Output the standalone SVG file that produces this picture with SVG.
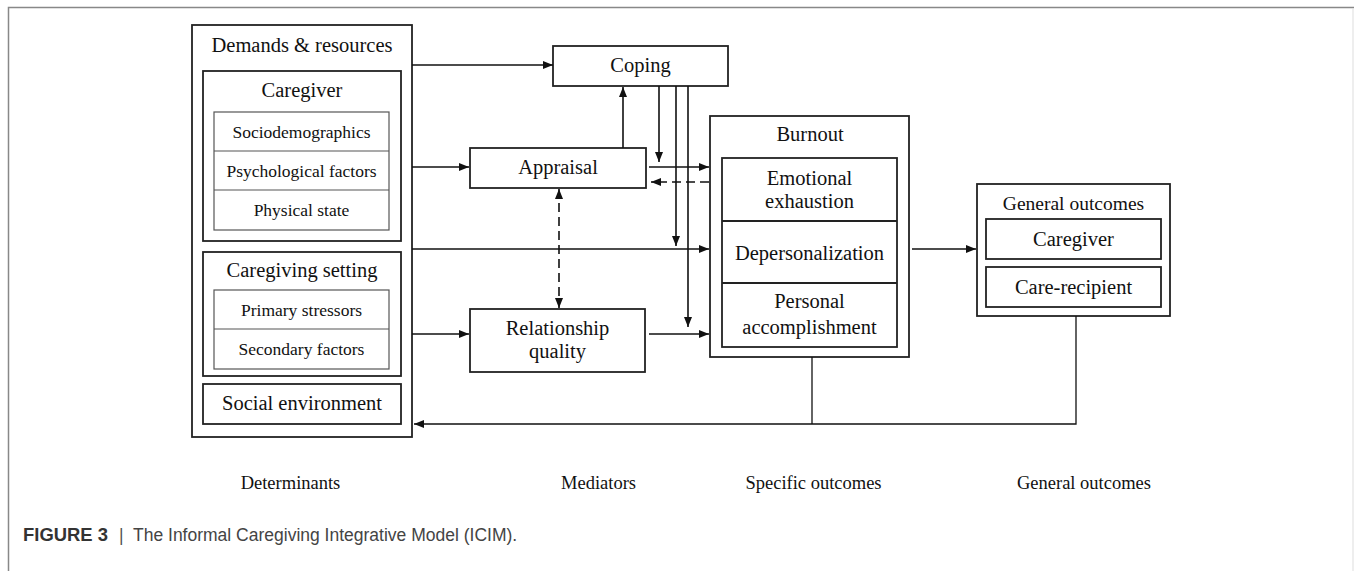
<svg xmlns="http://www.w3.org/2000/svg" width="1354" height="571" viewBox="0 0 1354 571">
<defs>
<marker id="ah" markerUnits="userSpaceOnUse" markerWidth="10" markerHeight="8" refX="10" refY="4" orient="auto-start-reverse"><path d="M0,0 L10,4 L0,8 z" fill="#111"/></marker>
<style>
.box{fill:#fff;stroke:#222;stroke-width:1.8}
.inbox{fill:#fff;stroke:#555;stroke-width:1.2}
.t{font-family:"Liberation Serif","Times New Roman",serif;fill:#111;text-anchor:middle}
.h{font-size:20.5px}
.s{font-size:17.5px}
.lab{font-size:18.5px}
.c{stroke:#111;stroke-width:1.6;fill:none}
.d{stroke-dasharray:9,5}
.cap{font-family:"Liberation Sans",Arial,sans-serif;font-size:17.5px}
</style>
</defs>
<rect x="0" y="0" width="1354" height="571" fill="#fff"/>
<g id="frame">
<path d="M8.5,571 V7.5 H1354" fill="none" stroke="#888" stroke-width="1.5"/>
<path d="M1353,8 V571" fill="none" stroke="#ddd" stroke-width="1"/>
</g>
<g id="demands">
<rect class="box" x="192" y="25" width="220" height="412"/>
<text class="t h" x="302" y="52">Demands &amp; resources</text>
</g>
<g id="caregiver">
<rect class="box" x="203" y="71" width="198" height="170"/>
<text class="t h" x="302" y="97">Caregiver</text>
<rect class="inbox" x="214" y="112" width="175" height="118"/>
<line class="inbox" x1="214" y1="151" x2="389" y2="151"/>
<line class="inbox" x1="214" y1="190" x2="389" y2="190"/>
<text class="t s" x="301.5" y="138">Sociodemographics</text>
<text class="t s" x="301.5" y="177">Psychological factors</text>
<text class="t s" x="301.5" y="216">Physical state</text>
</g>
<g id="setting">
<rect class="box" x="203" y="252" width="198" height="124"/>
<text class="t h" x="302" y="277">Caregiving setting</text>
<rect class="inbox" x="214" y="290" width="175" height="79"/>
<line class="inbox" x1="214" y1="329" x2="389" y2="329"/>
<text class="t s" x="301.5" y="316">Primary stressors</text>
<text class="t s" x="301.5" y="355">Secondary factors</text>
</g>
<g id="social">
<rect class="box" x="203" y="384" width="198" height="40"/>
<text class="t h" x="302" y="410">Social environment</text>
</g>
<g id="coping">
<rect class="box" x="553" y="46" width="175" height="40"/>
<text class="t h" x="640.5" y="72">Coping</text>
</g>
<g id="appraisal">
<rect class="box" x="470" y="148" width="176" height="40"/>
<text class="t h" x="558" y="174">Appraisal</text>
</g>
<g id="relationship">
<rect class="box" x="470" y="309" width="175" height="63"/>
<text class="t h" x="557.5" y="335">Relationship</text>
<text class="t h" x="557.5" y="358">quality</text>
</g>
<g id="burnout">
<rect class="box" x="710" y="116" width="199" height="241"/>
<text class="t h" x="810" y="141">Burnout</text>
<rect class="box" x="722" y="158" width="175" height="189"/>
<line class="box" x1="722" y1="221" x2="897" y2="221"/>
<line class="box" x1="722" y1="283" x2="897" y2="283"/>
<text class="t h" x="809.5" y="185">Emotional</text>
<text class="t h" x="809.5" y="208">exhaustion</text>
<text class="t h" x="809.5" y="260">Depersonalization</text>
<text class="t h" x="809.5" y="308">Personal</text>
<text class="t h" x="809.5" y="334">accomplishment</text>
</g>
<g id="general">
<rect class="box" x="977" y="184" width="193" height="132"/>
<text class="t" style="font-size:19.5px" x="1073.5" y="210">General outcomes</text>
<rect class="box" x="986" y="219" width="175" height="40"/>
<text class="t h" x="1073.5" y="246">Caregiver</text>
<rect class="box" x="986" y="267" width="175" height="40"/>
<text class="t h" x="1073.5" y="294">Care-recipient</text>
</g>
<g id="connectors">
<line class="c" x1="412" y1="65" x2="553" y2="65" marker-end="url(#ah)"/>
<line class="c" x1="412" y1="167" x2="469" y2="167" marker-end="url(#ah)"/>
<line class="c" x1="412" y1="249" x2="709" y2="249" marker-end="url(#ah)"/>
<line class="c" x1="412" y1="334" x2="469" y2="334" marker-end="url(#ah)"/>
<line class="c" x1="623" y1="148" x2="623" y2="87" marker-end="url(#ah)"/>
<line class="c" x1="659" y1="86" x2="659" y2="162" marker-end="url(#ah)"/>
<line class="c" x1="676" y1="86" x2="676" y2="246" marker-end="url(#ah)"/>
<line class="c" x1="688" y1="86" x2="688" y2="327" marker-end="url(#ah)"/>
<line class="c" x1="649" y1="167" x2="709" y2="167" marker-end="url(#ah)"/>
<line class="c d" x1="709" y1="182" x2="651" y2="182" marker-end="url(#ah)"/>
<line class="c d" x1="559" y1="189" x2="559" y2="308" marker-start="url(#ah)" marker-end="url(#ah)"/>
<line class="c" x1="649" y1="334" x2="709" y2="334" marker-end="url(#ah)"/>
<line class="c" x1="912" y1="249" x2="976" y2="249" marker-end="url(#ah)"/>
<path class="c" style="stroke-width:1.3" d="M812,357 V424"/>
<path class="c" style="stroke-width:1.3" d="M1076,316 V424 H414" marker-end="url(#ah)"/>
</g>
<g id="labels">
<text class="t lab" x="290.5" y="489">Determinants</text>
<text class="t lab" x="598.5" y="489">Mediators</text>
<text class="t lab" x="813.5" y="489">Specific outcomes</text>
<text class="t lab" x="1084" y="489">General outcomes</text>
</g>
<g id="caption">
<text class="cap" y="541"><tspan x="23" font-weight="bold" fill="#333" textLength="85" lengthAdjust="spacingAndGlyphs">FIGURE 3</tspan><tspan x="119" fill="#555">|</tspan><tspan x="133" fill="#444">The Informal Caregiving Integrative Model (ICIM).</tspan></text>
</g>
</svg>
